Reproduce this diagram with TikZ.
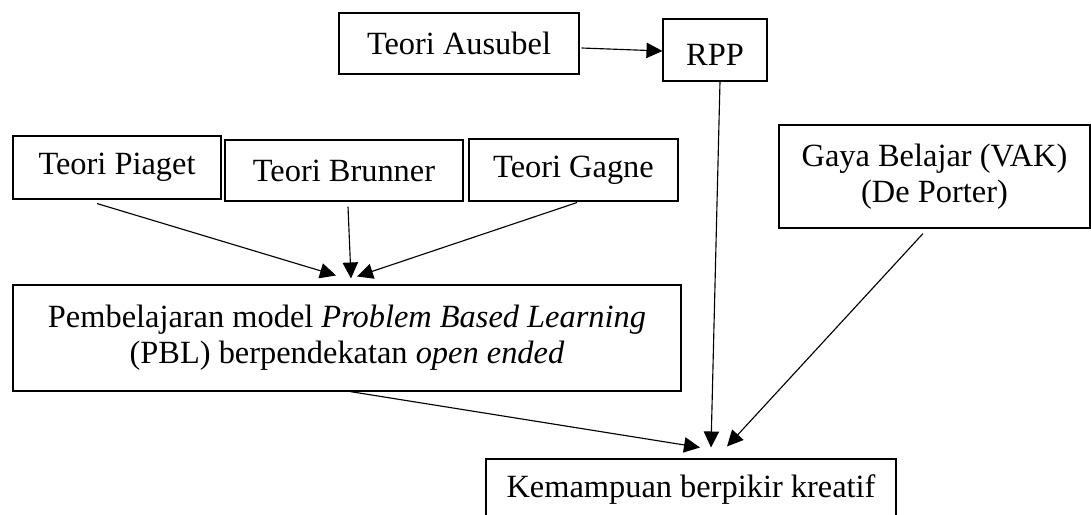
\documentclass[tikz,border=0pt]{standalone}
\usepackage{fontspec}
\setmainfont{Liberation Serif}
\usetikzlibrary{arrows.meta}
\begin{document}
\begin{tikzpicture}[x=0.75pt,y=-0.75pt,
  box/.style={draw,line width=0.8pt,inner sep=0pt,align=center,
    font=\fontsize{24.3}{27}\selectfont},
  conn/.style={line width=0.85pt,-{Triangle[length=12pt,width=11.5pt]}}]
\fill[white] (0,0) rectangle (1091,514);
\useasboundingbox (0,0) rectangle (1091,514);
\node[box,minimum width=180pt,minimum height=45.75pt] (aus) at (459,43.5) {Teori Ausubel};
\node[box,minimum width=78pt,minimum height=46.5pt,text height=23.25pt,text depth=0pt] (rpp) at (715,50) {RPP};
\node[box,minimum width=156pt,minimum height=47.25pt] (pia) at (117,167.5) {Teori Piaget};
\node[box,minimum width=178.5pt,minimum height=45.75pt] (bru) at (344,170.5) {Teori Brunner};
\node[box,minimum width=156.75pt,minimum height=46.5pt] (gag) at (573.5,170) {Teori Gagne};
\node[box,minimum width=233.25pt,minimum height=77.25pt] (gay) at (934.5,176.5) {Gaya Belajar (VAK)\\(De Porter)};
\node[box,minimum width=501pt,minimum height=79.5pt] (pbl) at (347,338) {Pembelajaran model \textit{Problem Based Learning}\\(PBL) berpendekatan \textit{open ended}};
\node[box,minimum width=307.5pt,minimum height=46.5pt] (kem) at (691,490) {Kemampuan berpikir kreatif};
\draw[conn] ([shift={(2,4.5)}]aus.east) -- ([shift={(0,1)}]rpp.west);
\draw[conn] ([shift={(-20,4)}]pia.south) -- ([shift={(-11,-9)}]pbl.north);
\draw[conn] ([shift={(4,5)}]bru.south) -- ([shift={(4,-6)}]pbl.north);
\draw[conn] ([shift={(3.5,1)}]gag.south) -- ([shift={(10,-8)}]pbl.north);
\draw[conn] ([shift={(5,0)}]rpp.south) -- ([shift={(20,-11)}]kem.north);
\draw[conn] ([shift={(-11.5,5)}]gay.south) -- ([shift={(36,-12)}]kem.north);
\draw[conn] ([shift={(3,0)}]pbl.south) -- ([shift={(9,-11)}]kem.north);
\end{tikzpicture}
\end{document}
